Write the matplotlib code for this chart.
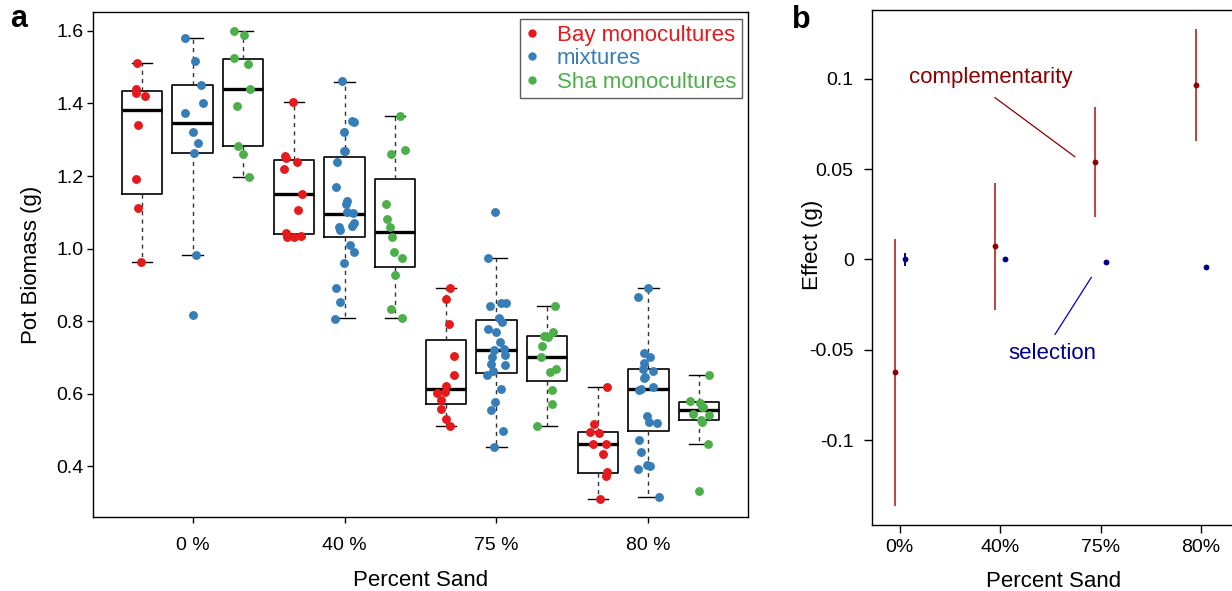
import numpy as np
import matplotlib.pyplot as plt
import matplotlib.transforms as mtransforms
from matplotlib.lines import Line2D

plt.rcParams['font.family'] = ['Liberation Sans', 'DejaVu Sans']

fig = plt.figure(figsize=(12.32, 5.91), dpi=100)

# ---------------- data ----------------
sand_levels = ['0 %', '40 %', '75 %', '80 %']
treatments = ['Bay monocultures', 'mixtures', 'Sha monocultures']
colours = ['#E41A1C', '#377EB8', '#4DAF4A']

# pot biomass (g) per sand level, with the horizontal jitter
bay_biomass = [
    [1.511, 1.440, 1.429, 1.420, 1.340, 1.191, 1.112, 0.963],
    [1.403, 1.250, 1.255, 1.240, 1.220, 1.150, 1.105, 1.044, 1.033, 1.032, 1.034],
    [0.891, 0.861, 0.791, 0.703, 0.651, 0.621, 0.603, 0.601, 0.582, 0.558, 0.530, 0.510],
    [0.618, 0.517, 0.494, 0.491, 0.460, 0.461, 0.434, 0.383, 0.372, 0.310],
]
bay_jitter = [
    [-0.105, -0.125, -0.125, 0.06, -0.085, -0.12, -0.08, -0.02],
    [-0.01, -0.165, -0.18, 0.065, -0.20, 0.165, 0.09, -0.165, -0.14, 0.0, 0.145],
    [0.09, 0.01, 0.07, 0.16, 0.16, 0.01, -0.01, -0.17, -0.10, -0.105, 0.0, 0.09],
    [0.19, -0.07, -0.16, 0.02, -0.085, 0.16, 0.105, 0.19, 0.165, 0.05],
]
mix_biomass = [
    [1.581, 1.516, 1.450, 1.400, 1.373, 1.321, 1.290, 1.263, 0.981, 0.817],
    [1.461, 1.352, 1.350, 1.321, 1.269, 1.270, 1.239, 1.170, 1.130, 1.123, 1.101,
     1.097, 1.071, 1.062, 1.060, 1.051, 1.010, 0.990, 0.959, 0.891, 0.852, 0.806],
    [1.101, 0.975, 0.842, 0.850, 0.850, 0.809, 0.797, 0.778, 0.770, 0.741, 0.720, 0.722,
     0.706, 0.702, 0.681, 0.679, 0.662, 0.652, 0.612, 0.576, 0.554, 0.496, 0.452],
    [0.890, 0.867, 0.712, 0.700, 0.685, 0.668, 0.662, 0.645, 0.642, 0.617, 0.612,
     0.610, 0.539, 0.521, 0.520, 0.471, 0.440, 0.401, 0.403, 0.393, 0.315],
]
mix_jitter = [
    [-0.142, 0.05, 0.17, 0.20, -0.14, 0.0, 0.115, 0.02, 0.075, 0.01],
    [-0.05, 0.15, 0.19, -0.02, -0.02, 0.0, -0.15, -0.16, 0.04, 0.02, 0.05,
     0.17, 0.19, 0.14, -0.11, -0.08, 0.10, 0.19, -0.02, -0.17, -0.09, -0.18],
    [-0.02, -0.17, -0.12, 0.08, 0.195, 0.05, 0.10, -0.16, 0.0, 0.06, -0.04, 0.15,
     0.16, -0.095, -0.11, 0.175, -0.07, -0.19, 0.08, -0.02, -0.10, 0.13, -0.055],
    [-0.015, -0.20, -0.09, 0.03, -0.085, -0.10, 0.10, -0.06, -0.09, 0.10, -0.14,
     -0.19, -0.03, 0.005, 0.165, -0.19, -0.15, 0.03, -0.03, -0.20, 0.20],
]
sha_biomass = [
    [1.600, 1.590, 1.525, 1.510, 1.441, 1.392, 1.284, 1.260, 1.197],
    [1.366, 1.272, 1.261, 1.123, 1.081, 1.059, 1.033, 0.991, 0.973, 0.926, 0.832, 0.809],
    [0.841, 0.770, 0.760, 0.756, 0.732, 0.700, 0.667, 0.660, 0.610, 0.571, 0.510],
    [0.651, 0.580, 0.574, 0.563, 0.562, 0.543, 0.541, 0.527, 0.521, 0.462, 0.330],
]
sha_jitter = [
    [-0.19, 0.02, -0.19, 0.095, 0.13, -0.115, -0.10, -0.01, 0.11],
    [0.10, 0.19, -0.09, -0.19, -0.16, -0.095, -0.06, -0.02, 0.13, 0.0, -0.09, 0.13],
    [0.155, 0.115, -0.055, 0.02, -0.10, -0.13, 0.18, 0.06, 0.095, 0.09, -0.20],
    [0.19, -0.175, 0.01, 0.06, 0.08, -0.115, 0.19, 0.04, 0.06, 0.17, -0.01],
]

# box statistics, order: bay, mixtures, sha for each sand level
box_hi = [1.511, 1.581, 1.600, 1.403, 1.460, 1.366, 0.890, 0.975, 0.841, 0.618, 0.890, 0.651]
box_q3 = [1.435, 1.450, 1.524, 1.244, 1.253, 1.192, 0.747, 0.802, 0.759, 0.493, 0.668, 0.577]
box_med = [1.381, 1.346, 1.441, 1.150, 1.096, 1.046, 0.612, 0.720, 0.700, 0.462, 0.612, 0.554]
box_q1 = [1.151, 1.263, 1.284, 1.039, 1.031, 0.950, 0.570, 0.657, 0.635, 0.382, 0.496, 0.527]
box_lo = [0.963, 0.981, 1.197, 1.032, 0.807, 0.808, 0.510, 0.452, 0.510, 0.310, 0.315, 0.462]

# panel b: partitioned biodiversity effects
effect_labels = ['0%', '40%', '75%', '80%']
comp_effect = [-0.0626, 0.0072, 0.0537, 0.0963]
comp_lo = [-0.1366, -0.0280, 0.0234, 0.0657]
comp_hi = [0.0112, 0.0422, 0.0843, 0.1273]
sel_effect = [0.0, 0.0, -0.0015, -0.0043]
sel_lo = [-0.0037, -0.0012, -0.0025, -0.0053]
sel_hi = [0.0037, 0.0012, -0.0005, -0.0033]

# ---------------- panel a ----------------
ax1 = fig.add_axes([0.0752, 0.1247, 0.5321, 0.8545])

stats = []
for i in range(12):
    stats.append(dict(med=box_med[i], q1=box_q1[i], q3=box_q3[i],
                      whislo=box_lo[i], whishi=box_hi[i], fliers=[]))
ax1.bxp(stats, positions=np.arange(1, 13), widths=0.8, capwidths=0.4,
        showfliers=False, patch_artist=False,
        boxprops=dict(color='black', lw=1.2),
        medianprops=dict(color='black', lw=2.4, solid_capstyle='butt'),
        whiskerprops=dict(color='#333333', lw=1.0, linestyle=(0, (3, 3))),
        capprops=dict(color='black', lw=1.0))

groups = [bay_biomass, mix_biomass, sha_biomass]
jitters = [bay_jitter, mix_jitter, sha_jitter]
for t in range(3):
    for s in range(4):
        pos = 3 * s + t + 1
        xs = pos + np.array(jitters[t][s])
        ax1.plot(xs, groups[t][s], 'o', color=colours[t], ms=6.4, mec='none', zorder=5)

ax1.set_xlim(0.027, 12.97)
ax1.set_ylim(0.2585, 1.6516)
ax1.set_xticks([2, 5, 8, 11])
ax1.set_xticklabels(sand_levels)
ax1.set_yticks([0.4, 0.6, 0.8, 1.0, 1.2, 1.4, 1.6])
ax1.set_yticklabels(['0.4', '0.6', '0.8', '1.0', '1.2', '1.4', '1.6'])
ax1.tick_params(labelsize=14, length=4, width=1.0)
ax1.tick_params(axis='x', pad=10)
ax1.tick_params(axis='y', pad=2.5)
ax1.set_xlabel('Percent Sand', fontsize=16, labelpad=12)
ax1.set_ylabel('Pot Biomass (g)', fontsize=16, labelpad=10)
for sp in ax1.spines.values():
    sp.set_linewidth(1.0)

handles = [Line2D([], [], marker='o', ls='none', color=c, ms=6, mec='none') for c in colours]
leg = ax1.legend(handles, treatments, loc='upper right', fontsize=16,
                 frameon=True, fancybox=False, edgecolor='#333333',
                 handlelength=0.6, handletextpad=0.8, borderpad=0.25,
                 labelspacing=0.12, borderaxespad=0.3)
leg.get_frame().set_linewidth(1.0)
for txt, c in zip(leg.get_texts(), colours):
    txt.set_color(c)

fig.text(0.008, 0.955, 'a', fontsize=22, fontweight='bold')

# ---------------- panel b ----------------
ax2 = fig.add_axes([0.7076, 0.1117, 0.2956, 0.8714])
x = np.arange(1, 5)
comp_x = x - 0.052
sel_x = x + 0.05
ax2.vlines(comp_x, comp_lo, comp_hi, color='#B22222', lw=1.4, alpha=0.85)
ax2.plot(comp_x, comp_effect, 'o', color='#8B0000', ms=4.2, mec='none')
ax2.vlines(sel_x, sel_lo, sel_hi, color='#00008B', lw=1.4)
ax2.plot(sel_x, sel_effect, 'o', color='#00008B', ms=4.2, mec='none')

ax2.plot([1.948, 2.744], [0.0895, 0.0568], color='#8B0000', lw=0.9)
ax2.text(1.908, 0.1009, 'complementarity', color='#8B0000', fontsize=16,
         ha='center', va='center')
ax2.plot([2.547, 2.908], [-0.0415, -0.0100], color='#0000CD', lw=0.9)
ax2.text(2.52, -0.0522, 'selection', color='#00008B', fontsize=16,
         ha='center', va='center')

ax2.set_xlim(0.72, 4.35)
ax2.set_ylim(-0.147, 0.138)
ax2.set_xticks(x)
ax2.set_xticklabels(effect_labels)
offset = mtransforms.ScaledTranslation(5 / 100, 0, fig.dpi_scale_trans)
for lab in ax2.get_xticklabels():
    lab.set_transform(lab.get_transform() + offset)
ax2.set_yticks([-0.1, -0.05, 0, 0.05, 0.1])
ax2.set_yticklabels(['-0.1', '-0.05', '0', '0.05', '0.1'])
ax2.tick_params(labelsize=14, length=6, width=1.0)
ax2.tick_params(axis='x', pad=4)
ax2.tick_params(axis='y', pad=7)
ax2.set_xlabel('Percent Sand', fontsize=16, labelpad=11)
ax2.set_ylabel('Effect (g)', fontsize=16)
ax2.yaxis.set_label_coords(-0.134, 0.544)
ax2.spines['right'].set_visible(False)
for sp in ax2.spines.values():
    sp.set_linewidth(1.0)

fig.text(0.643, 0.952, 'b', fontsize=22, fontweight='bold')

plt.savefig('out.png', dpi=100)
